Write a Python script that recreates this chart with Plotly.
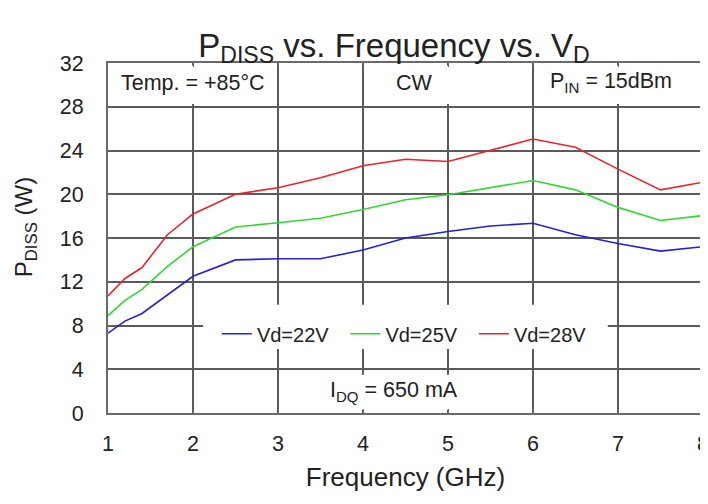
import plotly.graph_objects as go

freq = [1, 1.2, 1.4, 1.7, 2, 2.5, 3, 3.5, 4, 4.5, 5, 5.5, 6, 6.5, 7, 7.5, 8]
vd22 = [7.3, 8.4, 9.1, 10.8, 12.5, 14.0, 14.1, 14.1, 14.9, 16.0, 16.6, 17.1, 17.35, 16.3, 15.5, 14.8, 15.2]
vd25 = [8.9, 10.3, 11.3, 13.4, 15.2, 17.0, 17.4, 17.8, 18.6, 19.5, 19.95, 20.6, 21.25, 20.4, 18.8, 17.6, 18.05]
vd28 = [10.7, 12.3, 13.3, 16.3, 18.2, 20.0, 20.6, 21.5, 22.6, 23.2, 23.0, 24.0, 25.05, 24.3, 22.3, 20.4, 21.1]
series_names = ["Vd=22V", "Vd=25V", "Vd=28V"]
series_colors = ["#2424c8", "#33d633", "#e4262f"]
x_ticks = [1, 2, 3, 4, 5, 6, 7, 8]
y_ticks = [0, 4, 8, 12, 16, 20, 24, 28, 32]

FONT = "Liberation Sans, Arial, sans-serif"
TXT = "#222222"

fig = go.Figure()
for name, vals, col in zip(series_names, [vd22, vd25, vd28], series_colors):
    fig.add_trace(go.Scatter(x=freq, y=vals, mode="lines", name=name,
                             line=dict(color=col, width=1.6)))

# white boxes hiding grid behind text
boxes = [(1.05, 2.95, 28.25, 31.75), (4.05, 5.95, 28.25, 31.75), (6.05, 7.95, 28.25, 31.75),
         (2.12, 6.88, 5.85, 9.9), (3.55, 5.3, 0.3, 3.5)]
for x0, x1, y0, y1 in boxes:
    fig.add_shape(type="rect", xref="x", yref="y", x0=x0, x1=x1, y0=y0, y1=y1,
                  fillcolor="white", line=dict(width=0), layer="between")

ann = [
    (2.0, 30.2, "Temp. = +85°C"),
    (4.6, 30.2, "CW"),
    (6.92, 30.2, "P<sub>IN</sub> = 15dBm"),
    (4.36, 2.0, "I<sub>DQ</sub> = 650 mA"),
]
for x, y, t in ann:
    fig.add_annotation(x=x, y=y, xref="x", yref="y", text=t, showarrow=False,
                       font=dict(family=FONT, size=21.5, color=TXT))

# y-axis title
fig.add_annotation(x=-0.138, y=0.533, xref="paper", yref="paper",
                   text="P<sub>DISS</sub> (W)", textangle=-90, showarrow=False,
                   xanchor="center", yanchor="middle",
                   font=dict(family=FONT, size=24, color=TXT))

axis_common = dict(showgrid=True, gridcolor="#5a5a5a", gridwidth=1.5,
                   showline=True, linecolor="#6a6a6a", linewidth=2, mirror="allticks",
                   ticks="inside", ticklen=4, tickcolor="#6a6a6a", automargin=False,
                   ticklabeloverflow="allow",
                   tickfont=dict(family=FONT, size=21.5, color=TXT), zeroline=False)

fig.update_layout(
    width=700, height=496,
    margin=dict(l=100, r=5, t=55, b=91),
    paper_bgcolor="white", plot_bgcolor="white",
    title=dict(text="P<sub>DISS</sub> vs. Frequency vs. V<sub>D</sub>",
               x=386 / 700, xref="container", xanchor="center",
               y=1 - 37 / 496, yref="container", yanchor="middle",
               font=dict(family=FONT, size=33, color=TXT)),
    xaxis=dict(range=[1, 8], tickvals=x_ticks, ticklabelstandoff=10,
               title=dict(text="Frequency (GHz)", standoff=13,
                          font=dict(family=FONT, size=26, color=TXT)),
               **axis_common),
    yaxis=dict(range=[0, 32], tickvals=y_ticks, ticklabelstandoff=18,
               **axis_common),
    showlegend=True,
    legend=dict(orientation="h", x=0.183, y=0.2266, xanchor="left", yanchor="middle",
                xref="paper", yref="paper", bgcolor="rgba(0,0,0,0)",
                font=dict(family=FONT, size=20, color=TXT),
                itemwidth=30, entrywidth=83.5, entrywidthmode="pixels"),
)

fig.write_html("out.html")
